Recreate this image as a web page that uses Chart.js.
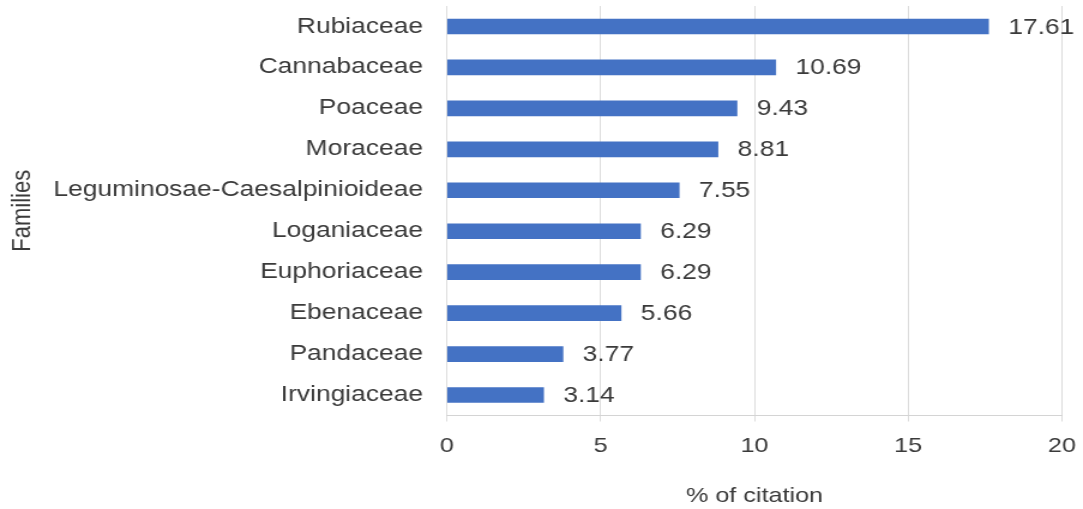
<!DOCTYPE html>
<html>
<head>
<meta charset="utf-8">
<script src="https://cdn.jsdelivr.net/npm/chart.js@4.4.1/dist/chart.umd.min.js"></script>
<style>
  html, body { margin: 0; padding: 0; background: #ffffff; overflow: hidden; }
  #wrap { width: 903px; height: 509px; transform: scaleX(1.1993); transform-origin: 0 0; }
  canvas { display: block; }
</style>
</head>
<body>
<div id="wrap"><canvas id="c" width="903" height="509" style="width:903px;height:509px"></canvas></div>
<script>
// Plant families and their share of citations (%)
const families = [
  'Rubiaceae', 'Cannabaceae', 'Poaceae', 'Moraceae',
  'Leguminosae-Caesalpinioideae', 'Loganiaceae', 'Euphoriaceae',
  'Ebenaceae', 'Pandaceae', 'Irvingiaceae'
];
const citationPct = [17.61, 10.69, 9.43, 8.81, 7.55, 6.29, 6.29, 5.66, 3.77, 3.14];
const xTicks = [0, 5, 10, 15, 20];

const textColor = '#3a3a3a';
const fontFamily = '"Liberation Sans", Arial, sans-serif';

// Writes each bar's value just past its end
const valueLabels = {
  id: 'valueLabels',
  afterDatasetsDraw(chart) {
    const ctx = chart.ctx;
    const meta = chart.getDatasetMeta(0);
    ctx.save();
    ctx.fillStyle = textColor;
    ctx.font = '22px ' + fontFamily;
    ctx.textAlign = 'left';
    ctx.textBaseline = 'middle';
    meta.data.forEach((bar, i) => {
      ctx.fillText(citationPct[i].toFixed(2), bar.x + 16.5, bar.y + 1);
    });
    ctx.restore();
  }
};

new Chart(document.getElementById('c'), {
  type: 'bar',
  data: {
    labels: families,
    datasets: [{
      data: citationPct,
      backgroundColor: '#4472C4',
      borderWidth: 0,
      barThickness: 15
    }]
  },
  options: {
    indexAxis: 'y',
    responsive: false,
    animation: false,
    devicePixelRatio: 1,
    layout: { padding: { top: 6, right: 17.5, bottom: 0, left: 0 } },
    plugins: {
      legend: { display: false },
      tooltip: { enabled: false }
    },
    scales: {
      x: {
        min: 0,
        max: 20,
        afterBuildTicks(scale) { scale.ticks = xTicks.map(v => ({ value: v })); },
        afterFit(scale) {
          scale.height = 93.5;
          scale.paddingLeft = 0;
          scale.paddingRight = 0;
        },
        grid: {
          color: '#dcdcdc',
          lineWidth: 1,
          drawTicks: true,
          tickLength: 6,
          tickColor: '#dcdcdc'
        },
        border: { display: true, color: '#d4d4d4' },
        ticks: {
          color: textColor,
          font: { family: fontFamily, size: 21 },
          padding: 12,
          maxRotation: 0
        },
        title: {
          display: true,
          text: '% of citation',
          color: textColor,
          font: { family: fontFamily, size: 21 },
          padding: { top: 0, bottom: 0 }
        }
      },
      y: {
        afterFit(scale) {
          scale.width = 372.7;
          scale.paddingTop = 0;
          scale.paddingBottom = 0;
        },
        grid: { display: false, drawTicks: false },
        border: { display: false },
        ticks: {
          color: textColor,
          font: { family: fontFamily, size: 22 },
          padding: 20,
          autoSkip: false
        },
        title: {
          display: true,
          text: 'Families',
          color: textColor,
          font: { family: fontFamily, size: 22 },
          padding: { top: 6, bottom: 0 }
        }
      }
    }
  },
  plugins: [valueLabels]
});
</script>
</body>
</html>
